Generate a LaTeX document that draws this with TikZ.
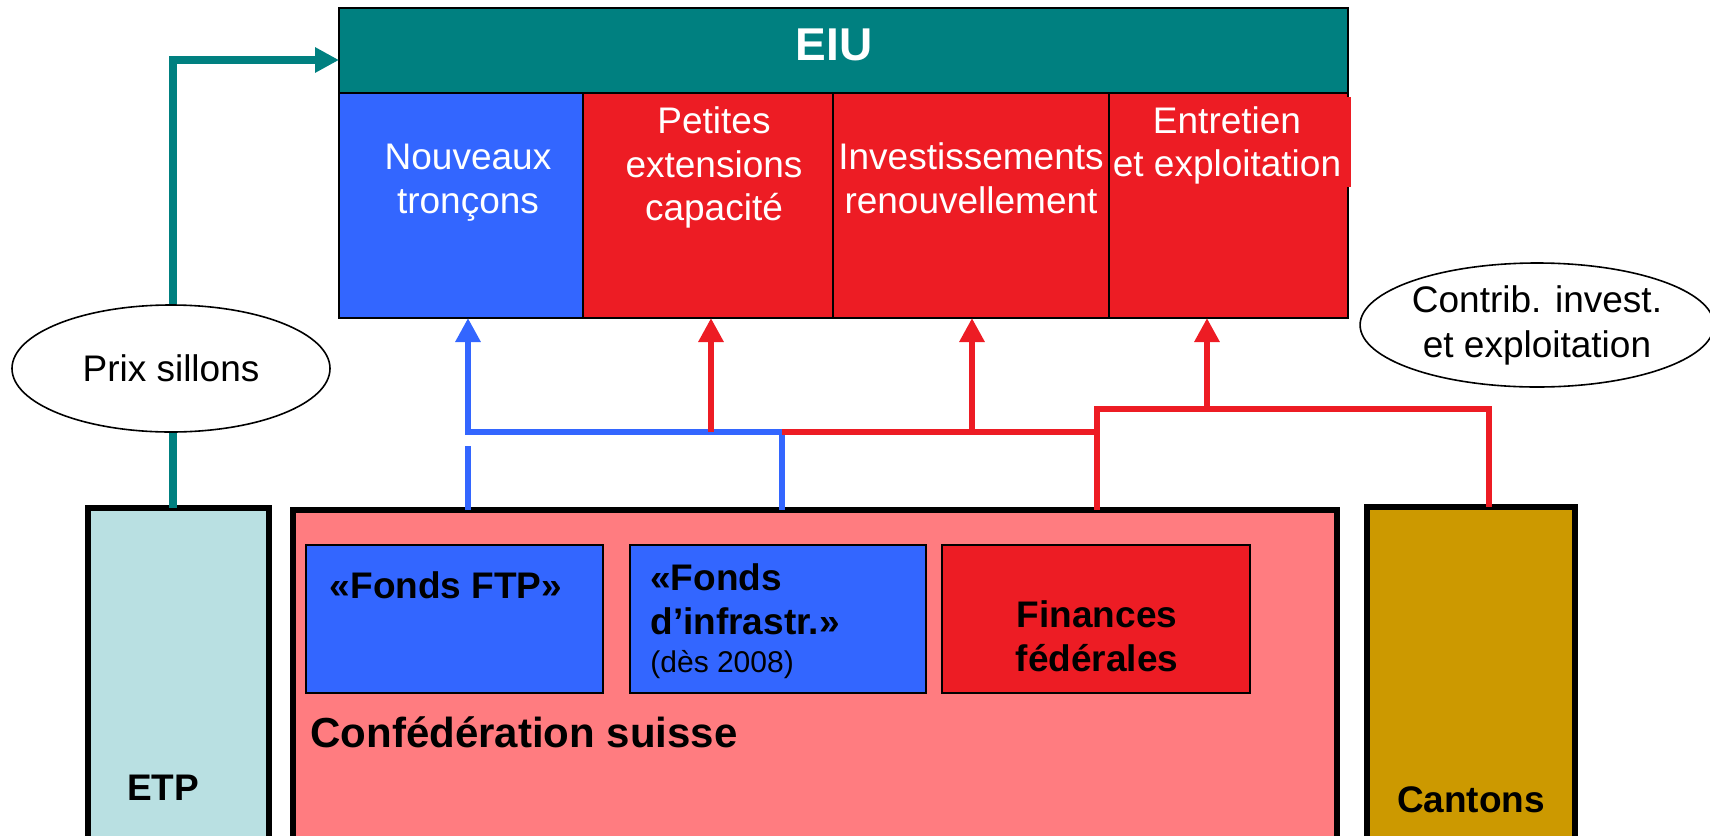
\documentclass[tikz,border=0pt]{standalone}
\usepackage{fontspec}
\setmainfont{Liberation Sans}
\usetikzlibrary{arrows.meta,shapes.geometric}
\definecolor{eiuteal}{RGB}{0,128,128}
\definecolor{eiublue}{RGB}{51,102,255}
\definecolor{eiured}{RGB}{237,28,36}
\definecolor{confpink}{RGB}{255,124,128}
\definecolor{etpfill}{RGB}{185,224,226}
\definecolor{cantfill}{RGB}{204,153,0}
\tikzset{
  thinbox/.style={draw=black, line width=1pt, inner sep=0pt, outer sep=0pt},
  subbox/.style={thinbox, minimum height=112.5pt},
  thickbox/.style={draw=black, line width=2.6pt, inner sep=0pt, outer sep=0pt},
  fundbox/.style={draw=black, line width=0.7pt, inner sep=0pt, outer sep=0pt, minimum height=74pt},
  normtext/.style={font=\fontsize{18.5}{21.75}\selectfont, align=center, inner sep=0pt},
  whitetext/.style={normtext, text=white},
  boldtext/.style={font=\bfseries\fontsize{18.5}{22}\selectfont, align=center, inner sep=0pt},
  oval/.style={ellipse, draw=black, line width=0.8pt, fill=white, inner sep=0pt, font=\fontsize{18.5}{22.5}\selectfont, align=center},
  tealline/.style={draw=eiuteal, line width=4pt},
  blueline/.style={draw=eiublue, line width=3.3pt},
  redline/.style={draw=eiured, line width=3.3pt},
  tip/.style={-{Triangle[length=12pt,width=12pt]}},
}
\begin{document}
\begin{tikzpicture}[x=0.5pt,y=-0.5pt]
\useasboundingbox (0,0) rectangle (1710,836);
\clip (0,0) rectangle (1710,836);

% EIU block
\node[thinbox, fill=eiuteal, minimum width=504.5pt, minimum height=42.5pt] (eiu) at (843.5,50.5) {};
\node[font=\bfseries\fontsize{23}{27}\selectfont, text=white, inner sep=0pt] (eiut) at (834,45) {EIU};
\node[subbox, fill=eiublue, minimum width=121.75pt] (nouv) at (460.75,205.5) {};
\node[subbox, fill=eiured, minimum width=125.25pt] (pet) at (707.75,205.5) {};
\node[subbox, fill=eiured, minimum width=138pt] (inv) at (971,205.5) {};
\node[subbox, fill=eiured, minimum width=119.5pt] (ent) at (1228.5,205.5) {};
\node[fill=eiured, inner sep=0pt, minimum width=120.5pt, minimum height=45pt] (entbg) at (1230.5,142) {};
\node[whitetext] (nouvt) at (468,182.5) {Nouveaux\\tronçons};
\node[whitetext] (pett) at (714,167.5) {Petites\\extensions\\capacité};
\node[whitetext] (invt) at (971,178.5) {Investissements\\renouvellement};
\node[whitetext] (entt) at (1227,145.5) {Entretien\\et exploitation};

% ovals
\node[oval, minimum width=159pt, minimum height=63.5pt] (prix) at (171,368.5) {Prix sillons};
\node[oval, minimum width=173pt, minimum height=62pt] (contrib) at (1537,325) {Contrib. invest.\\et exploitation};

% bottom blocks
\node[thickbox, fill=etpfill, minimum width=90.5pt, minimum height=168.5pt] (etp) at (178.5,676.5) {};
\node[thickbox, fill=confpink, minimum width=522pt, minimum height=167.5pt] (conf) at (815,677.5) {};
\node[thickbox, fill=cantfill, minimum width=104pt, minimum height=169pt] (cant) at (1471,676) {};
\node[fundbox, fill=eiublue, minimum width=148.5pt] (fftp) at (454.5,619) {};
\node[fundbox, fill=eiublue, minimum width=148pt] (finf) at (778,619) {};
\node[fundbox, fill=eiured, minimum width=154pt] (fin) at (1096,619) {};

\node[boldtext] (fftpt) at (446,585) {«Fonds FTP»};
\node[boldtext, anchor=north west, align=left] (finft) at (650,563) {«Fonds\\d’infrastr.»\\[-3pt]{\mdseries\fontsize{15}{18}\selectfont (dès 2008)}};
\node[boldtext] (fint) at (1097,636) {Finances\\fédérales};
\node[font=\bfseries\fontsize{21}{25}\selectfont, anchor=west, inner sep=0pt] (conft) at (310,732) {Confédération suisse};
\node[boldtext] (etpt) at (163,788) {ETP};
\node[boldtext] (cantt) at (1471,800) {Cantons};

% teal connectors
\draw[tealline, tip] (prix.north -| 173,0) -- (173,60) -- (eiu.west |- 0,60);
\draw[tealline] (prix.south -| 173,0) -- (etp.north -| 173,0);

% blue connectors
\coordinate (bj) at (782,432);
\coordinate (bl) at (468,432);
\draw[blueline, tip] (conf.north -| bj) -- (bj) -- (bl) -- (nouv.south -| bl);
\draw[blueline] (conf.north -| bl) -- (468,446);

% red connectors
\coordinate (rj) at (1097,432);
\coordinate (rt) at (1097,409);
\coordinate (rc) at (1489,409);
\draw[redline] (conf.north -| rj) -- (rt) -- (rc) -- (cant.north -| rc);
\draw[redline] (bj) -- (rj);
\draw[redline, tip] (711,432) -- (pet.south -| 711,0);
\draw[redline, tip] (972,432) -- (inv.south -| 972,0);
\draw[redline, tip] (1207,409) -- (ent.south -| 1207,0);
\end{tikzpicture}
\end{document}
